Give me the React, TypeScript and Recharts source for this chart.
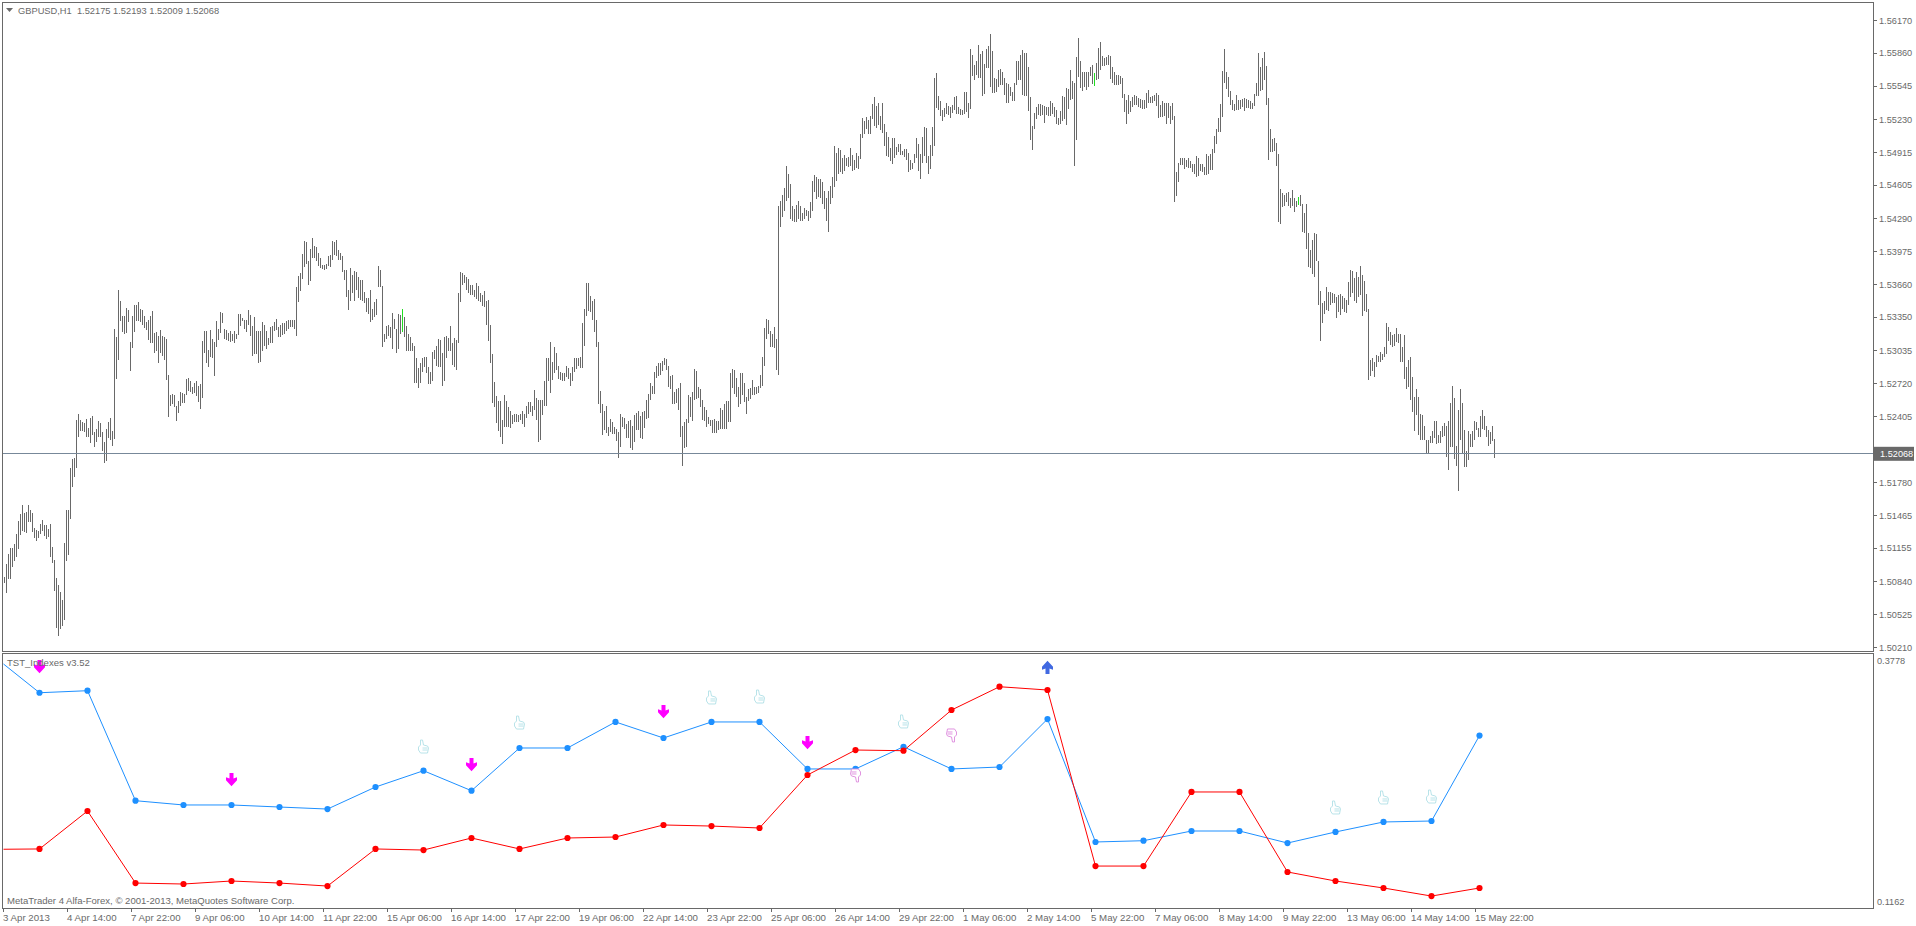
import React from "react";
import { ComposedChart, Bar, Cell, Line, XAxis, YAxis, ReferenceLine } from "recharts";

// Hourly GBPUSD bars as [high, low], in pips above 1.5000.
const barsEarlyApril: number[][] = [[88,82],[100,73],[110,86],[116,86],[116,98],[119,103],[129,107],[141,115],[148,128],[156,132],[149,131],[150,130],[156,140],[152,140],[149,131],[135,125],[133,122],[132,125],[138,129],[142,132],[137,127],[137,124],[134,126],[138,107],[117,101],[104,75],[87,40],[80,32],[74,39],[66,41],[120,47],[152,103],[152,109],[192,143],[200,174],[201,183],[237,192],[243,221],[237,227],[235,227],[234,226],[238,221],[230,221],[239,215],[241,223],[226,212],[229,216],[236,221],[234,221],[226,208],[216,196],[229,198],[235,220],[239,218],[227,213],[324,219],[316,276]];
const barsMidApril: number[][] = [[361,294],[350,331],[336,321],[336,319],[344,320],[342,330],[311,284],[336,306],[347,321],[347,331],[349,331],[343,330],[342,328],[336,325],[330,323],[332,313],[336,310],[341,310],[320,301],[321,303],[317,291],[323,301],[317,298],[316,294],[314,275],[280,240],[261,251],[262,252],[261,250],[251,236],[255,244],[264,251],[263,253],[262,253],[276,261],[277,265],[274,264],[269,262],[272,263],[274,260],[270,254],[271,248],[312,258],[322,301],[322,291],[304,288],[323,297],[314,296],[311,279],[331,307],[324,313],[340,320],[339,329],[324,314],[323,313],[320,312],[322,311],[319,312],[322,310],[319,314],[338,318],[338,327],[334,331],[332,324],[332,321],[342,328],[337,317],[327,298],[335,300],[322,300],[322,291],[322,292],[330,303],[328,308],[322,305],[315,309],[326,310],[327,310],[330,322],[333,323],[326,316],[328,316],[329,318],[329,319],[331,322],[332,324],[332,326],[332,326],[332,324],[364,317],[374,349],[377,360],[395,371],[407,383],[406,386],[388,366],[400,369],[410,391],[403,391],[402,388],[396,384],[391,382],[385,381],[385,380],[386,381],[393,384],[394,383],[407,389],[406,394],[408,393],[399,389],[396,389],[393,378],[380,370],[380,354],[361,342],[382,350],[375,358],[379,350],[378,361],[373,353],[370,351],[370,350],[359,348],[353,340],[353,338],[361,330],[343,332],[349,335],[352,337],[384,364],[380,364],[365,307],[319,311],[327,314],[328,317],[326,315],[339,305],[333,324],[324,301],[338,305],[337,319],[343,321],[335,316],[327,303],[319,303],[316,303],[310,303],[308,272],[296,272],[287,268],[291,272],[296,283],[297,288],[297,282],[288,271],[283,271],[302,274],[304,295],[308,289],[314,288],[313,288],[301,270],[316,274],[317,296],[315,303],[327,303],[310,290],[315,288],[313,285],[358,310],[378,349],[377,366],[375,367],[373,361],[371,358],[366,356],[366,356],[361,354],[367,352],[365,350],[358,349],[356,346],[360,345],[350,328],[351,312],[328,291],[300,253],[273,250],[260,234],[255,227],[255,221]];
const barsLateApril: number[][] = [[237,214],[261,231],[255,231],[250,231],[246,230],[242,233],[243,235],[243,235],[242,235],[243,237],[246,233],[243,231],[251,239],[254,243],[254,245],[251,241],[266,247],[258,237],[256,216],[256,218],[256,242],[274,251],[296,251],[296,274],[311,263],[292,275],[307,282],[301,285],[289,276],[283,275],[282,274],[282,274],[289,278],[287,276],[282,270],[288,274],[296,283],[296,286],[296,289],[297,287],[329,287],[343,308],[367,336],[367,341],[355,340],[350,332],[352,321],[332,307],[311,252],[265,244],[252,223],[246,228],[251,225],[231,222],[238,226],[235,224],[231,224],[229,217],[226,201],[243,212],[240,231],[239,229],[233,220],[236,220],[237,211],[232,209],[242,216],[244,228],[246,228],[241,220],[245,219],[246,230],[256,238],[262,239],[272,256],[270,262],[283,262],[289,277],[291,279],[291,280],[293,284],[296,290],[295,285],[289,269],[279,267],[280,252],[264,252],[267,253],[268,247],[272,221],[232,194],[235,211],[238,212],[261,234],[259,240],[264,236],[286,256],[284,257],[269,258],[267,250],[256,237],[250,236],[247,231],[240,233],[237,232],[237,225],[238,225],[236,225],[236,228],[249,229],[247,229],[252,229],[255,229],[255,235],[282,235],[286,268],[285,262],[277,259],[269,250],[282,252],[282,261],[272,254],[259,243],[267,255],[268,257],[275,261],[269,261],[269,262],[270,263],[280,268],[297,270],[325,289],[333,314],[332,319],[322,307],[319,307],[326,306],[314,285],[441,280],[445,421],[451,430],[458,436],[479,445],[471,448],[462,428],[441,426],[438,425],[442,425],[445,428],[441,426]];
const barsMay: number[][] = [[434,426],[439,428],[437,431],[436,426],[444,429],[464,436],[470,454],[468,447],[466,449],[466,448],[463,443],[455,438],[448,426],[455,416],[460,443],[468,448],[498,459],[491,464],[496,471],[494,473],[486,471],[489,474],[486,479],[487,478],[496,479],[489,474],[484,475],[491,477],[488,476],[509,485],[524,505],[521,509],[525,514],[522,509],[526,509],[538,523],[544,517],[536,515],[539,518],[526,513],[539,510],[519,498],[511,488],[506,487],[496,483],[505,481],[505,486],[497,489],[500,492],[500,489],[493,489],[495,487],[495,484],[491,473],[484,475],[482,476],[490,482],[505,486],[500,474],[490,466],[506,482],[516,488],[515,482],[488,471],[499,476],[516,488],[562,498],[567,534],[545,532],[540,526],[532,521],[534,525],[539,528],[536,527],[535,524],[537,529],[544,532],[545,528],[535,528],[533,527],[532,527],[549,528],[549,530],[539,524],[590,533],[584,564],[575,560],[578,565],[594,562],[585,562],[588,545],[576,547],[590,572],[593,572],[604,554],[588,548],[562,548],[561,549],[570,554],[571,556],[568,556],[562,546],[558,539],[557,539],[554,545],[549,540],[558,540],[578,556],[578,560],[584,560],[589,546],[586,545],[586,545],[573,531],[544,503],[517,494],[529,514],[535,523],[538,527],[538,526],[537,527],[536,520],[535,527],[535,526],[540,526],[539,528],[535,525],[532,519],[524,518],[531,519],[545,521],[544,523],[553,518],[552,533],[570,541],[559,542],[558,479],[582,503],[600,563],[578,553],[568,550],[568,554],[568,551],[568,554],[573,564],[575,557],[567,555],[577,560],[591,561],[597,570],[583,574],[581,574],[582,575],[584,575],[583,561],[573,558],[568,556],[565,556],[565,556],[564,557],[562,543],[547,530],[541,519],[546,528],[540,530],[544,535],[546,537],[545,537],[543,535],[542,534],[541,533],[541,533],[548,534],[551,539],[544,539],[545,539],[546,540],[548,536],[546,524],[537,525],[540,525],[539,526],[539,519],[539,524],[536,519],[539,522],[526,444],[473,450],[482,463],[486,480],[486,480],[486,476],[484,478],[486,477],[483,477],[481,473],[481,471],[488,468],[486,469],[481,474],[481,473],[478,470],[490,470],[488,471],[490,475],[495,475],[507,491],[514,500],[524,511],[538,511],[569,525],[590,558],[568,552],[563,544],[550,537],[541,532],[538,531],[546,532],[541,532],[541,533],[542,535],[543,531],[542,534],[541,534],[540,533],[539,533],[547,536],[558,545],[586,545],[573,550],[581,551],[587,560],[574,537],[543,484],[514,492],[504,492],[505,493],[501,479],[490,425],[457,424],[453,440],[451,441],[453,444],[454,441],[448,439],[456,441],[448,435],[445,440],[449,442],[451,441]];
const barsMidMay: number[][] = [[443,416],[434,415],[443,400],[415,383],[399,382],[408,376],[415,373],[414,388],[388,347],[360,312],[348,329],[350,338],[364,342],[359,341],[359,347],[358,348],[357,348],[354,334],[356,340],[357,337],[355,343],[353,340],[351,339],[368,347],[380,354],[379,358],[372,350],[378,348],[373,354],[384,356],[375,336],[369,341],[357,340],[343,275],[294,279],[296,284],[292,278],[299,288],[298,292],[302,292],[300,294],[307,297],[329,300],[326,312],[321,309],[318,307],[319,308],[325,311],[319,310],[319,292],[307,292],[318,276],[288,267],[294,269],[297,256],[278,245],[259,227],[267,242],[259,223],[243,218],[242,218],[232,218],[218,205],[218,205],[222,215],[227,215],[236,220],[236,214],[223,215],[227,215],[232,221],[234,222],[232,202],[236,190],[253,212],[270,212],[258,200],[213,194],[247,170],[267,218],[253,205],[228,193],[208,193],[227,199],[224,212],[227,212],[236,218],[235,228],[230,221],[241,221],[247,229],[241,228],[232,221],[228,213],[226,214],[232,217],[219,201]];
const upBars = [199, 545, 647];
const priceTicks = [1.5617,1.5586,1.55545,1.5523,1.54915,1.54605,1.5429,1.53975,1.5366,1.5335,1.53035,1.5272,1.52405,1.5178,1.51465,1.51155,1.5084,1.50525,1.5021];
const lastPrice = 1.52068;
const lastPriceLevel = 1.52056; // where the bid line sits against the printed tick scale
const timeLabels = ["3 Apr 2013","4 Apr 14:00","7 Apr 22:00","9 Apr 06:00","10 Apr 14:00","11 Apr 22:00","15 Apr 06:00","16 Apr 14:00","17 Apr 22:00","19 Apr 06:00","22 Apr 14:00","23 Apr 22:00","25 Apr 06:00","26 Apr 14:00","29 Apr 22:00","1 May 06:00","2 May 14:00","5 May 22:00","7 May 06:00","8 May 14:00","9 May 22:00","13 May 06:00","14 May 14:00","15 May 22:00"];

// Daily TST_Indexes values
const blueLead = 0.3675;
const redLead = 0.1767;
const blueDaily = [0.3379,0.34,0.2267,0.2223,0.2223,0.2202,0.2181,0.2408,0.2576,0.237,0.281,0.281,0.3078,0.2913,0.3078,0.3078,0.2594,0.2594,0.2823,0.2594,0.2614,0.3108,0.1842,0.1855,0.1955,0.1955,0.1831,0.1945,0.2048,0.2058,0.2938];
const redDaily = [0.177,0.2161,0.1419,0.1409,0.144,0.1419,0.1388,0.177,0.1759,0.1883,0.177,0.1883,0.1893,0.2017,0.2006,0.1986,0.2532,0.2789,0.2782,0.3201,0.3441,0.3407,0.1594,0.1594,0.2357,0.2357,0.1533,0.144,0.1368,0.1285,0.1368];
const arrowDownMarks = [[0,0.3644],[4,0.248],[9,0.2635],[13,0.3181],[16,0.2861]];
const arrowUpMarks = [[21,0.3644]];
const thumbUpMarks = [[8,0.282],[10,0.3067],[14,0.3325],[15,0.3335],[18,0.3078],[27,0.2192],[28,0.2295],[29,0.2305]];
const thumbDownMarks = [[17,0.2532],[19,0.2944]];

const SLOTS = 935;
const FIRST_DAY_SLOT = 18;
const DAY_SLOTS = 24;
const LABEL_SLOTS = 32;
const FONT = "'Liberation Sans', sans-serif";
const GREY = "#696969";

const allBars = [...barsEarlyApril, ...barsMidApril, ...barsLateApril, ...barsMay, ...barsMidMay];
const toPrice = (p: number) => 1.5 + p / 10000;
const slotOf = (n: number) => FIRST_DAY_SLOT + DAY_SLOTS * n;
const markAt = (marks: number[][], slot: number) => {
  const m = marks.find((e) => slotOf(e[0]) === slot);
  return m ? m[1] : null;
};
const dailyAt = (vals: number[], lead: number, slot: number) => {
  if (slot === 0) return lead;
  const n = (slot - FIRST_DAY_SLOT) / DAY_SLOTS;
  return Number.isInteger(n) && n >= 0 && n < vals.length ? vals[n] : null;
};

const priceRows = Array.from({ length: SLOTS }, (_, slot) => {
  const b = allBars[slot];
  return { slot, range: b ? [toPrice(b[1]), toPrice(b[0])] : null };
});
const indexRows = Array.from({ length: SLOTS }, (_, slot) => ({
  slot,
  blue: dailyAt(blueDaily, blueLead, slot),
  red: dailyAt(redDaily, redLead, slot),
  arrowDown: markAt(arrowDownMarks, slot),
  arrowUp: markAt(arrowUpMarks, slot),
  thumbUp: markAt(thumbUpMarks, slot),
  thumbDown: markAt(thumbDownMarks, slot),
}));
const timeTicks = timeLabels.map((_, i) => i * LABEL_SLOTS);

const isBlank = (p: any, key: string) => p.cy == null || p.payload == null || p.payload[key] == null;

const dailyDot = (key: string, color: string) => (p: any) => {
  if (isBlank(p, key) || p.payload.slot === 0) return <g key={p.index} />;
  return <circle key={p.index} cx={p.cx} cy={p.cy} r={3.1} fill={color} stroke="none" />;
};
const arrowDot = (key: string, color: string, dir: number) => (p: any) => {
  if (isBlank(p, key)) return <g key={p.index} />;
  return (
    <path
      key={p.index}
      transform={`translate(${p.cx},${p.cy}) scale(1,${dir})`}
      d="M-2,-7 L2,-7 L2,-1.5 L5.5,-2.8 L5.5,0.2 L0,6.2 L-5.5,0.2 L-5.5,-2.8 L-2,-1.5 Z"
      fill={color}
    />
  );
};
const thumbDot = (key: string, color: string, dir: number) => (p: any) => {
  if (isBlank(p, key)) return <g key={p.index} />;
  return (
    <g key={p.index} transform={`translate(${p.cx},${p.cy}) scale(${dir},${dir})`} fill="#ffffff" stroke={color} strokeWidth={0.9}>
      <path d="M-3,-7 L-1,-7 L0,-2 L4,-1 L5,1 L4,6 L-3,6 L-5,3 L-5,0 L-3,-2 Z" />
      <path d="M-1,1 L4,1 M-1,3 L4,3" fill="none" />
    </g>
  );
};

const PriceTag = (p: any) => {
  const y = p.viewBox.y;
  return (
    <g>
      <rect x={1874} y={y - 6.5} width={40} height={14} fill={GREY} />
      <text x={1880} y={y + 0.5} dy="0.35em" fontSize={9.2} fontFamily={FONT} fill="#ffffff">
        {lastPrice.toFixed(5)}
      </text>
    </g>
  );
};

const TimeTick = (p: any) => {
  const i = p.payload.value / LABEL_SLOTS;
  return (
    <g>
      <line x1={p.x - 0.5} x2={p.x - 0.5} y1={909} y2={912} stroke={GREY} shapeRendering="crispEdges" />
      <text x={p.x - 0.5} y={917.5} dy="0.35em" fontSize={9.7} fontFamily={FONT} fill={GREY}>
        {timeLabels[i]}
      </text>
    </g>
  );
};

const IndexTick = (p: any) => {
  const shift = p.payload.value > 0.3 ? 7 : -6;
  return (
    <text x={1877} y={p.y + shift} dy="0.35em" fontSize={9.2} fontFamily={FONT} fill={GREY}>
      {p.payload.value.toFixed(4)}
    </text>
  );
};

const box = (left: number, top: number, width: number, height: number): React.CSSProperties => ({
  position: "absolute",
  left,
  top,
  width,
  height,
  border: `1px solid ${GREY}`,
  boxSizing: "border-box",
});
const caption = (left: number, top: number, size: number): React.CSSProperties => ({
  position: "absolute",
  left,
  top,
  font: `${size}px ${FONT}`,
  lineHeight: "12px",
  color: GREY,
  whiteSpace: "pre",
});

export default function App() {
  return (
    <div style={{ position: "absolute", left: 0, top: 0, width: 1916, height: 926, overflow: "hidden", background: "#fff" }}>
      <div style={box(2, 2, 1872, 650)} />
      <div style={box(2, 653, 1872, 256)} />
      <div style={{ position: "absolute", left: 0, top: 0 }}>
        <ComposedChart
          width={1916}
          height={652}
          data={priceRows}
          margin={{ top: 3, right: 0, bottom: 1, left: 3 }}
          barCategoryGap={0}
        >
          <XAxis dataKey="slot" hide scale="band" />
          <YAxis
            orientation="right"
            width={43}
            domain={[1.50177, 1.56336]}
            allowDataOverflow
            ticks={priceTicks}
            interval={0}
            axisLine={false}
            tickSize={4}
            tickMargin={2}
            tickLine={{ stroke: GREY, shapeRendering: "crispEdges" }}
            tick={{ fill: GREY, fontSize: 9.2, fontFamily: FONT }}
            tickFormatter={(v: number) => v.toFixed(5)}
          />
          <ReferenceLine y={lastPriceLevel} stroke="#778899" strokeWidth={1} shapeRendering="crispEdges" label={<PriceTag />} />
          <Bar dataKey="range" barSize={1} isAnimationActive={false} fill={GREY} shapeRendering="crispEdges">
            {priceRows.map((r) => (
              <Cell key={r.slot} fill={upBars.includes(r.slot) ? "#22dd22" : GREY} />
            ))}
          </Bar>
        </ComposedChart>
      </div>
      <div style={{ position: "absolute", left: 0, top: 0 }}>
        <ComposedChart
          width={1916}
          height={926}
          data={indexRows}
          margin={{ top: 654, right: 0, bottom: 0, left: 2.5 }}
        >
          <XAxis
            dataKey="slot"
            scale="band"
            ticks={timeTicks}
            interval={0}
            axisLine={false}
            tickLine={false}
            tick={<TimeTick />}
            height={18}
          />
          <YAxis
            orientation="right"
            width={43.5}
            domain={[0.1162, 0.3778]}
            allowDataOverflow
            ticks={[0.3778, 0.1162]}
            interval={0}
            axisLine={false}
            tickLine={false}
            tick={<IndexTick />}
          />
          <Line dataKey="blue" stroke="#1e90ff" strokeWidth={1} connectNulls dot={dailyDot("blue", "#1e90ff")} activeDot={false} isAnimationActive={false} />
          <Line dataKey="red" stroke="#ff0000" strokeWidth={1} connectNulls dot={dailyDot("red", "#ff0000")} activeDot={false} isAnimationActive={false} />
          <Line dataKey="arrowDown" stroke="none" dot={arrowDot("arrowDown", "#ff00ff", 1)} activeDot={false} isAnimationActive={false} />
          <Line dataKey="arrowUp" stroke="none" dot={arrowDot("arrowUp", "#4169e1", -1)} activeDot={false} isAnimationActive={false} />
          <Line dataKey="thumbUp" stroke="none" dot={thumbDot("thumbUp", "#b0e0e6", 1)} activeDot={false} isAnimationActive={false} />
          <Line dataKey="thumbDown" stroke="none" dot={thumbDot("thumbDown", "#dd88dd", -1)} activeDot={false} isAnimationActive={false} />
        </ComposedChart>
      </div>
      <svg style={{ position: "absolute", left: 6, top: 8 }} width={8} height={5}>
        <path d="M0,0 L7,0 L3.5,4 Z" fill={GREY} />
      </svg>
      <div style={caption(18, 5, 9.3)}>{"GBPUSD,H1  1.52175 1.52193 1.52009 1.52068"}</div>
      <div style={caption(7, 657, 9.55)}>{"TST_Indexes v3.52"}</div>
      <div style={caption(7, 895, 9.55)}>{"MetaTrader 4 Alfa-Forex, © 2001-2013, MetaQuotes Software Corp."}</div>
    </div>
  );
}
